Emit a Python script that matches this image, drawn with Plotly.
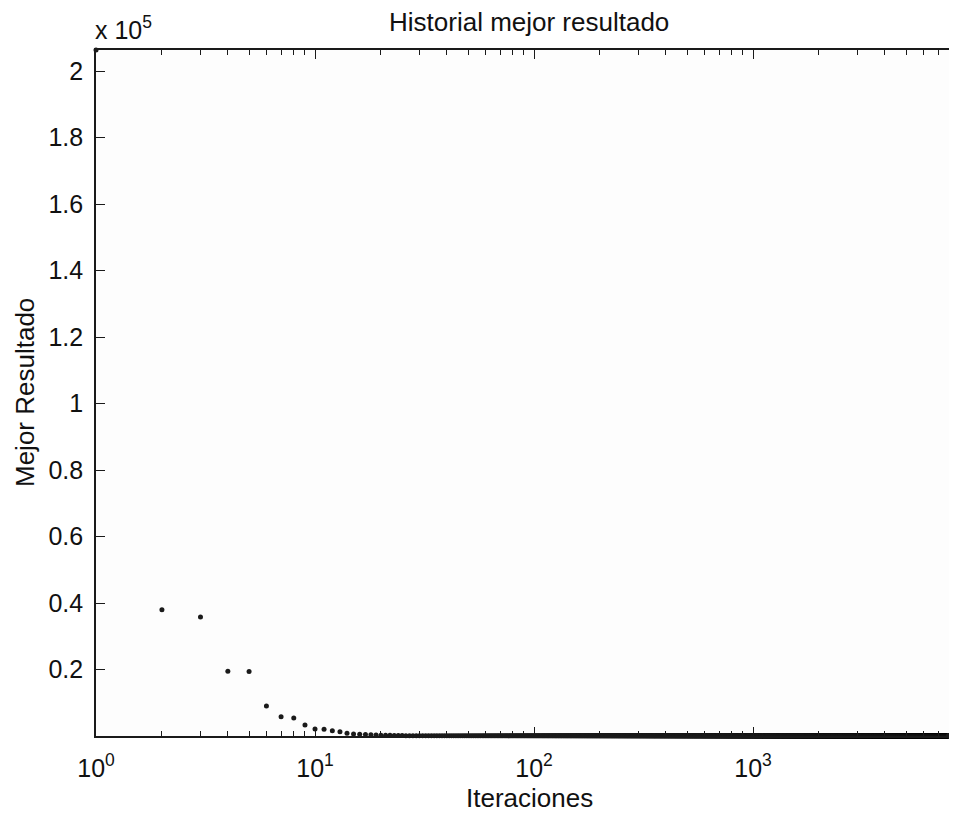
import plotly.graph_objects as go

# ---- data ----
early_iterations = list(range(1, 31))
early_best = [206400, 37950, 35800, 19500, 19400, 9050, 5800, 5400, 3300, 2100,
              2050, 1600, 1250, 800, 600, 500, 420, 360, 300, 260,
              220, 190, 160, 140, 120, 100, 90, 80, 70, 60]
plateau_best = 40
n_iterations = 9300

x_major_vals = [1, 10, 100, 1000]
x_major_text = ["10<sup>0</sup>", "10<sup>1</sup>", "10<sup>2</sup>", "10<sup>3</sup>"]
x_minor_vals = [m * d for d in (1, 10, 100, 1000) for m in range(2, 10)]
y_tick_vals = [20000, 40000, 60000, 80000, 100000, 120000, 140000, 160000, 180000, 200000]
y_tick_text = ["0.2", "0.4", "0.6", "0.8", "1", "1.2", "1.4", "1.6", "1.8", "2"]

iterations = list(range(1, n_iterations + 1))
best = early_best + [plateau_best] * (n_iterations - len(early_best))

# ---- figure ----
# the page body has an 8 px margin on every side; keep the page from scrolling
OFF = 8
W, H = 957 - 2 * OFF, 818 - 2 * OFF
PL, PT, PB = 96, 50, 736          # plot edges in screenshot pixels
PR = W + OFF                      # plot right edge in screenshot pixels
DECADE_PX = 219.0                 # pixels per decade in the reference
L, R, T, B = PL - OFF, 0, PT - OFF, (H + OFF) - PB
FONT = "Liberation Sans, Arial, Helvetica, sans-serif"
INK = "#1a1a1a"

def px_x(p):
    return (p - PL) / (PR - PL)

def px_y(p):
    return (PB - p) / (PB - PT)

fig = go.Figure()
fig.add_trace(go.Scatter(
    x=iterations, y=best, mode="markers",
    marker=dict(size=5, color=INK, line=dict(width=0)),
    cliponaxis=False, showlegend=False, hoverinfo="x+y"))

axis_common = dict(
    ticks="inside", ticklen=9, tickwidth=1.3, tickcolor=INK,
    showline=True, linecolor=INK, linewidth=1.6,
    showgrid=False, zeroline=False,
    tickfont=dict(family=FONT, size=25, color="#111"),
)

fig.update_layout(
    width=W, height=H,
    margin=dict(l=L, r=R, t=T, b=B, pad=0),
    paper_bgcolor="white", plot_bgcolor="#fdfdfd",
    font=dict(family=FONT, size=25, color="#111"),
    xaxis=dict(type="log", range=[0, (PR - PL) / DECADE_PX],
               tickvals=x_major_vals, ticktext=x_major_text,
               mirror="ticks",
               minor=dict(tickvals=x_minor_vals, ticks="inside", ticklen=5,
                          tickwidth=1.2, tickcolor=INK),
               ticklabelstandoff=9,
               **axis_common),
    yaxis=dict(range=[0, 206400], tickvals=y_tick_vals, ticktext=y_tick_text,
               ticklabelstandoff=6,
               **axis_common),
    annotations=[
        dict(text="Historial mejor resultado", xref="paper", yref="paper",
             x=px_x(529), y=px_y(22), xanchor="center", yanchor="middle",
             showarrow=False, font=dict(family=FONT, size=26, color="#111")),
        dict(text="x 10<sup>5</sup>", xref="paper", yref="paper",
             x=px_x(93), y=px_y(28), xanchor="left", yanchor="middle",
             showarrow=False, font=dict(family=FONT, size=25, color="#111")),
        dict(text="Iteraciones", xref="paper", yref="paper",
             x=px_x(529), y=px_y(798), xanchor="center", yanchor="middle",
             showarrow=False, font=dict(family=FONT, size=26, color="#111")),
        dict(text="Mejor Resultado", xref="paper", yref="paper",
             x=px_x(25), y=px_y(393), xanchor="center", yanchor="middle",
             textangle=-90,
             showarrow=False, font=dict(family=FONT, size=26, color="#111")),
    ],
)

fig.write_html("out.html")
